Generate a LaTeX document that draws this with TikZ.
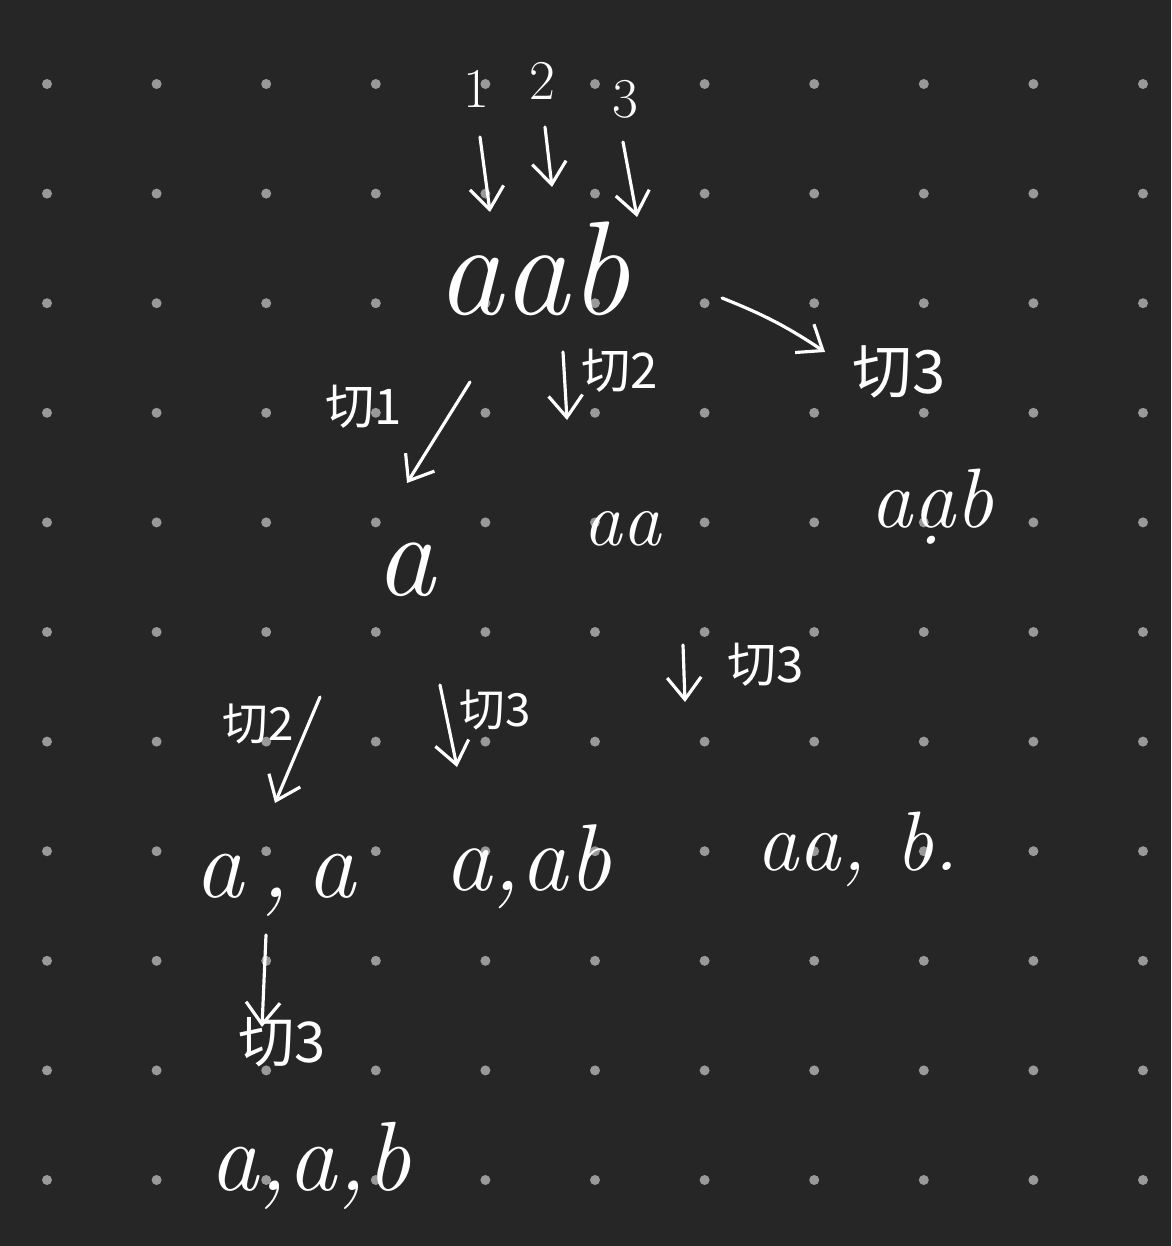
\documentclass[tikz,border=0pt]{standalone}
\usepackage{fontspec}
\newfontfamily\cjk{Noto Sans CJK SC}
\usetikzlibrary{arrows.meta}
\definecolor{boardbg}{HTML}{262626}
\definecolor{gridgray}{gray}{0.6}

\begin{document}
\begin{tikzpicture}[x=0.1mm,y=-0.1mm,
    ink/.style={draw=white,line width=0.9pt,line cap=round},
    cutarrow/.style={ink,-{Straight Barb[length=2.2mm,width=3.4mm]}},
    word/.style={text=white,inner sep=0pt,anchor=base,font=\itshape\fontsize{#1}{#1}\selectfont},
    digit/.style={text=white,inner sep=0pt,anchor=base,font=\fontsize{16}{16}\selectfont},
    cutlabel/.style={text=white,inner sep=0pt,anchor=base,font=\cjk\fontsize{#1}{#1}\selectfont}]
\fill[boardbg] (0,0) rectangle (1171,1246);
\useasboundingbox (0,0) rectangle (1171,1246);

% dot grid
\foreach \i in {0,...,10}
  \foreach \j in {0,...,10}
    \fill[gridgray] (47+109.6*\i,84+109.6*\j) circle (5);

    \node[digit] (d1) at (476,108) {1};
    \node[digit] (d2) at (542,100) {2};
    \node[digit] (d3) at (625,118) {3};
    \node[word=38] (root) at (533,314) {aab};

    \node[word=34] (a1) at (405,595) {a};
    \node[word=22] (a2) at (622,545) {aa};
    \node[word=24] (a3) at (932,527) {a\d{a}b};

    \node[word=28] (b1) at (275,897) {a\,,\,a};
    \node[word=27] (b2) at (528,890) {a,ab};
    \node[word=24] (b3) at (858,870) {aa, b.};

    \node[word=28] (c1) at (310,1190) {a,a,b};

    \node[cutlabel=14] (l1) at (364,424) {切1};
    \node[cutlabel=14] (l2) at (620,388) {切2};
    \node[cutlabel=17] (l3) at (899,393) {切3};
    \node[cutlabel=13] (l4) at (258,740) {切2};
    \node[cutlabel=13] (l5) at (495,726) {切3};
    \node[cutlabel=14] (l6) at (766,682) {切3};
    \node[cutlabel=16] (l7) at (282,1062) {切3};

    % arrow ends
    \coordinate (p1) at (480,137);  \coordinate (q1) at (490,212);
    \coordinate (p2) at (545,127);  \coordinate (q2) at (552,187);
    \coordinate (p3) at (623,142);  \coordinate (q3) at (637,217);
    \coordinate (k1) at (470,382);  \coordinate (h1) at (407,483);
    \coordinate (k2) at (563,352);  \coordinate (h2) at (567,420);
    \coordinate (k3) at (722,298);  \coordinate (h3) at (825,352);
    \coordinate (m1) at (320,697);  \coordinate (g1) at (275,803);
    \coordinate (m2) at (440,685);  \coordinate (g2) at (457,767);
    \coordinate (m3) at (683,645);  \coordinate (g3) at (685,702);
    \coordinate (n1) at (266,935);  \coordinate (f1) at (262,1027);

    % draw the arrows
    \draw[cutarrow] (p1) -- (q1);
    \draw[cutarrow] (p2) -- (q2);
    \draw[cutarrow] (p3) -- (q3);
    \draw[cutarrow] (k1) -- (h1);
    \draw[cutarrow] (k2) -- (h2);
    \draw[cutarrow] (k3) to[bend left=6] (h3);
    \draw[cutarrow] (m1) -- (g1);
    \draw[cutarrow] (m2) -- (g2);
    \draw[cutarrow] (m3) -- (g3);
    \draw[cutarrow] (n1) -- (f1);

\end{tikzpicture}
\end{document}
